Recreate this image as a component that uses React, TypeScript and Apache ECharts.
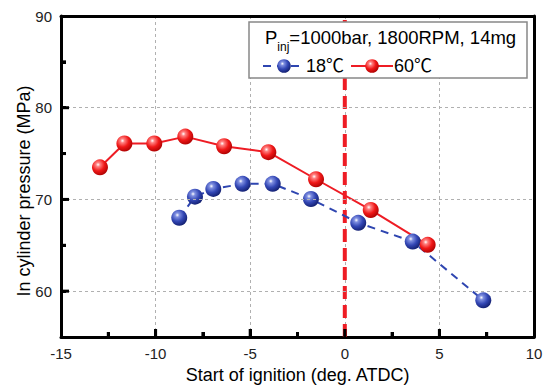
import React, { useEffect, useRef } from "react";
import * as echarts from "echarts";

const xTicks = [-15, -10, -5, 0, 5, 10];
const xMinorTicks = [-12.5, -7.5, -2.5, 2.5, 7.5];
const yTicks = [60, 70, 80, 90];
const yMinorTicks = [65, 75, 85];

const blueName = "18℃";
const redName = "60℃";

const blueX = [-8.75, -7.92, -6.95, -5.4, -3.81, -1.79, 0.71, 3.59, 7.32];
const blueY = [68.0, 70.3, 71.15, 71.7, 71.7, 70.05, 67.45, 65.4, 59.0];

const redX = [-12.94, -11.65, -10.07, -8.43, -6.38, -4.04, -1.52, 1.37, 4.38];
const redY = [73.5, 76.1, 76.1, 76.85, 75.8, 75.15, 72.2, 68.85, 65.05];

const markerX = [0, 0];
const markerY = [55, 90];

const X_MIN = -15, X_MAX = 10, Y_MIN = 55, Y_MAX = 90;

const sphere = (light: string, mid: string, dark: string) => ({
  type: "radial",
  x: 0.38,
  y: 0.33,
  r: 0.72,
  colorStops: [
    { offset: 0, color: "#ffffff" },
    { offset: 0.18, color: light },
    { offset: 0.55, color: mid },
    { offset: 1, color: dark },
  ],
});

export default function App() {
  const ref = useRef<HTMLDivElement>(null);
  useEffect(() => {
    if (!ref.current) return;
    const chart = echarts.init(ref.current, undefined, { renderer: "svg" });
    const font = "Liberation Sans, Arial, Noto Sans CJK SC, sans-serif";
    const tickLine = { color: "#000", width: 3 };
    const option: any = {
      animation: false,
      grid: { left: 61, top: 16, right: 16, bottom: 52 },
      xAxis: [
        {
          type: "value",
          min: X_MIN,
          max: X_MAX,
          interval: 5,
          name: "Start of ignition (deg. ATDC)",
          nameLocation: "middle",
          nameGap: 29,
          nameTextStyle: { fontFamily: font, fontSize: 18, color: "#000" },
          axisLine: { show: true, onZero: false, lineStyle: { color: "#000", width: 3 } },
          axisTick: { show: true, inside: true, length: 8, lineStyle: tickLine },
          axisLabel: {
            margin: 9,
            fontFamily: font,
            fontSize: 15,
            color: "#222",
            formatter: (v: number) => (xTicks.includes(v) ? String(v) : ""),
          },
          splitLine: { show: true, lineStyle: { color: "#b0b0b0", width: 1, type: [3, 3] } },
        },
        {
          type: "value",
          min: X_MIN,
          max: X_MAX,
          interval: 2.5,
          position: "bottom",
          axisLine: { show: false, onZero: false },
          axisTick: { show: true, inside: true, length: 5, lineStyle: tickLine },
          axisLabel: { show: false },
          splitLine: { show: false },
        },
        {
          type: "value",
          min: X_MIN,
          max: X_MAX,
          interval: 5,
          position: "top",
          axisLine: { show: true, onZero: false, lineStyle: { color: "#000", width: 3 } },
          axisTick: { show: false },
          axisLabel: { show: false },
          splitLine: { show: false },
        },
      ],
      yAxis: [
        {
          type: "value",
          min: Y_MIN,
          max: Y_MAX,
          interval: 5,
          position: "left",
          axisLine: { show: true, onZero: false, lineStyle: { color: "#000", width: 3 } },
          axisTick: { show: true, inside: true, length: 5, lineStyle: tickLine },
          axisLabel: {
            margin: 9,
            fontFamily: font,
            fontSize: 15,
            color: "#222",
            formatter: (v: number) => (yTicks.includes(v) ? String(v) : ""),
          },
          splitLine: { show: false },
        },
        {
          type: "value",
          min: Y_MIN,
          max: Y_MAX,
          interval: 5,
          position: "right",
          axisLine: { show: true, onZero: false, lineStyle: { color: "#000", width: 3 } },
          axisTick: { show: false },
          axisLabel: { show: false },
          splitLine: { show: false },
        },
      ],
      legend: {
        data: [blueName, redName],
        left: 262,
        top: 57,
        itemWidth: 42,
        itemHeight: 17,
        itemGap: 6,
        padding: 0,
        textStyle: { fontFamily: font, fontSize: 18, color: "#000", padding: [0, 0, 0, -4] },
        z: 6,
      },
      graphic: [
        {
          type: "rect",
          z: 4,
          shape: { x: 249, y: 22, width: 278, height: 56 },
          style: { fill: "#fff", stroke: "#888", lineWidth: 1.5 },
        },
        {
          type: "text",
          z: 6,
          x: 265,
          y: 25,
          style: {
            text: "{p|P}{s|inj}{p|=1000bar, 1800RPM, 14mg}",
            rich: {
              p: { fontFamily: font, fontSize: 18.5, color: "#000", lineHeight: 22, verticalAlign: "bottom" },
              s: { fontFamily: font, fontSize: 12, color: "#000", lineHeight: 22, verticalAlign: "bottom", padding: [0, 0, -6, 0] },
            },
          },
        },
        {
          type: "text",
          z: 6,
          x: 24,
          y: 191,
          rotation: Math.PI / 2,
          style: {
            text: "In cylinder pressure (MPa)",
            fontFamily: font,
            fontSize: 18,
            fill: "#000",
            align: "center",
            verticalAlign: "middle",
          },
        },
      ],
      series: [
        {
          name: "marker",
          type: "line",
          data: markerX.map((x, i) => [x, markerY[i]]),
          symbol: "none",
          lineStyle: { color: "#ee1c24", width: 4, type: [13, 6] },
          z: 1,
          silent: true,
          markLine: {
            silent: true,
            symbol: "none",
            label: { show: false },
            lineStyle: { color: "#b0b0b0", width: 1, type: [3, 3] },
            data: yTicks.filter((v) => v < Y_MAX).map((v) => ({ yAxis: v })),
          },
          markPoint: {
            silent: true,
            symbol: "rect",
            symbolSize: [8, 3],
            symbolOffset: [4, 0],
            itemStyle: { color: "#000" },
            label: { show: false },
            data: [...yTicks, ...yMinorTicks].filter((v) => v < Y_MAX).map((v) => ({ coord: [X_MIN, v], symbolSize: [yTicks.includes(v) ? 8 : 5, 3], symbolOffset: [yTicks.includes(v) ? 4 : 2.5, 0] })),
          },
        },
        {
          name: blueName,
          type: "line",
          data: blueX.map((x, i) => [x, blueY[i]]),
          symbol: "circle",
          symbolSize: 16,
          lineStyle: { color: "#2e45b0", width: 2, type: [8, 6] },
          itemStyle: { color: sphere("#7f8fe0", "#3347b5", "#101c6a") },
          z: 2,
          markPoint: {
            silent: true,
            symbol: "rect",
            itemStyle: { color: "#000" },
            label: { show: false },
            data: [...xTicks, ...xMinorTicks].filter((v) => v > X_MIN && v < X_MAX).map((v) => ({ coord: [v, Y_MIN], symbolSize: [3, xTicks.includes(v) ? 8 : 5], symbolOffset: [0, xTicks.includes(v) ? -4 : -2.5] })),
          },
        },
        {
          name: redName,
          type: "line",
          data: redX.map((x, i) => [x, redY[i]]),
          symbol: "circle",
          symbolSize: 16,
          lineStyle: { color: "#ee1c24", width: 2 },
          itemStyle: { color: sphere("#ff8080", "#f01818", "#a80000") },
          z: 2,
        },
      ],
    };
    chart.setOption(option);
    return () => chart.dispose();
  }, []);
  return <div ref={ref} style={{ width: 550, height: 389, position: "absolute", left: 0, top: 0, background: "#fff" }} />;
}
